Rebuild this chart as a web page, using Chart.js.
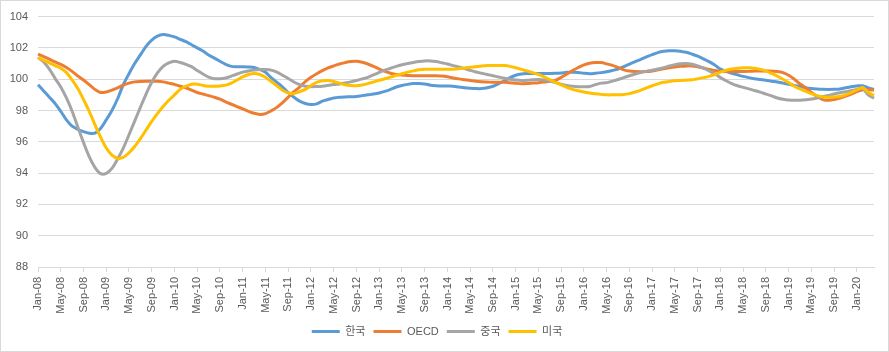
<!DOCTYPE html>
<html>
<head>
<meta charset="utf-8">
<script src="https://cdn.jsdelivr.net/npm/chart.js@4"></script>
<style>
  html, body { margin: 0; padding: 0; background: #fff; }
  #wrap { position: relative; width: 889px; height: 352px; }
  #frame { position: absolute; left: 0; top: 0; width: 887px; height: 350px; border: 1px solid #d9d9d9; pointer-events: none; }
  canvas { position: absolute; left: 0; top: 0; }
</style>
</head>
<body>
<div id="wrap">
  <canvas id="chart" width="889" height="352"></canvas>
  <div id="frame"></div>
</div>
<script>
// 월별 (Jan-08 ~ Apr-20)
const monthNames = ['Jan', 'Feb', 'Mar', 'Apr', 'May', 'Jun', 'Jul', 'Aug', 'Sep', 'Oct', 'Nov', 'Dec'];
const startYear = 2008;
const monthCount = 148;

const seriesNames = ['한국', 'OECD', '중국', '미국'];
const seriesColors = ['#5B9BD5', '#ED7D31', '#A5A5A5', '#FFC000'];

const korea = [
  99.65, 99.25, 98.85, 98.45, 97.95, 97.4, 97.0, 96.8, 96.65, 96.55, 96.55, 96.85,
  97.4, 98.0, 98.75, 99.65, 100.35, 101.0, 101.55, 102.1, 102.5, 102.75, 102.85, 102.8,
  102.7, 102.55, 102.4, 102.2, 102.0, 101.8, 101.55, 101.35, 101.15, 100.95, 100.82, 100.8,
  100.8, 100.78, 100.75, 100.62, 100.45, 100.1, 99.8, 99.5, 99.15, 98.85, 98.6, 98.45,
  98.38, 98.42, 98.6, 98.7, 98.8, 98.85, 98.87, 98.88, 98.9, 98.95, 99.0, 99.05,
  99.12, 99.22, 99.35, 99.5, 99.6, 99.67, 99.72, 99.73, 99.7, 99.62, 99.58, 99.57,
  99.56, 99.55, 99.5, 99.45, 99.42, 99.4, 99.4, 99.45, 99.55, 99.72, 99.9, 100.1,
  100.25, 100.33, 100.36, 100.37, 100.37, 100.37, 100.37, 100.38, 100.4, 100.44, 100.45, 100.43,
  100.38, 100.35, 100.38, 100.42, 100.48, 100.56, 100.65, 100.8, 100.97, 101.13, 101.27, 101.42,
  101.57, 101.7, 101.78, 101.82, 101.82, 101.78, 101.72, 101.6, 101.47, 101.3, 101.12, 100.9,
  100.65, 100.5, 100.38, 100.28, 100.18, 100.1, 100.03, 99.98, 99.93, 99.87, 99.82, 99.75,
  99.68, 99.6, 99.53, 99.45, 99.4, 99.37, 99.35, 99.34, 99.35, 99.37, 99.45, 99.52,
  99.57, 99.58, 99.45, 99.35
];

const oecd = [
  101.6, 101.45, 101.28, 101.1, 100.95, 100.75, 100.5, 100.2, 99.95, 99.65, 99.35, 99.15,
  99.18, 99.3, 99.45, 99.62, 99.75, 99.83, 99.86, 99.87, 99.87, 99.87, 99.83, 99.75,
  99.67, 99.55, 99.45, 99.3, 99.15, 99.05, 98.95, 98.85, 98.72, 98.55, 98.4, 98.25,
  98.1, 97.95, 97.82, 97.75, 97.8, 97.98, 98.2, 98.5, 98.85, 99.2, 99.5, 99.85,
  100.12, 100.35, 100.55, 100.72, 100.85, 100.97, 101.06, 101.13, 101.15, 101.08, 100.97, 100.82,
  100.65, 100.5, 100.38, 100.3, 100.26, 100.23, 100.22, 100.22, 100.22, 100.22, 100.22, 100.2,
  100.15, 100.08, 100.02, 99.97, 99.92, 99.87, 99.84, 99.82, 99.8, 99.8, 99.8, 99.78,
  99.74, 99.71, 99.72, 99.75, 99.78, 99.82, 99.87, 99.93, 100.12, 100.33, 100.55, 100.75,
  100.92, 101.02, 101.06, 101.06, 100.98, 100.88, 100.75, 100.6, 100.52, 100.49, 100.48, 100.49,
  100.53, 100.6, 100.67, 100.73, 100.78, 100.82, 100.85, 100.85, 100.8, 100.72, 100.63, 100.55,
  100.5, 100.49, 100.49, 100.49, 100.49, 100.5, 100.52, 100.53, 100.53, 100.51, 100.49, 100.42,
  100.25, 100.0, 99.7, 99.45, 99.15, 98.9, 98.7, 98.65, 98.7, 98.8, 98.92, 99.05,
  99.2, 99.33, 99.33, 99.3
];

const china = [
  101.4, 101.1, 100.65, 100.05, 99.5, 98.8, 97.95, 96.95, 95.95, 95.05, 94.37, 93.97,
  93.98, 94.3, 94.9, 95.6, 96.45, 97.32, 98.2, 99.05, 99.8, 100.4, 100.82, 101.05,
  101.15, 101.07, 100.95, 100.8, 100.55, 100.33, 100.13, 100.03, 100.03, 100.08, 100.2, 100.33,
  100.45, 100.52, 100.58, 100.62, 100.62, 100.58, 100.45, 100.25, 100.05, 99.82, 99.65, 99.55,
  99.52, 99.53, 99.55, 99.6, 99.66, 99.7, 99.76, 99.83, 99.92, 100.02, 100.12, 100.28,
  100.44, 100.58, 100.7, 100.82, 100.92, 101.0, 101.07, 101.13, 101.17, 101.17, 101.13, 101.05,
  100.97, 100.87, 100.78, 100.68, 100.56, 100.46, 100.38, 100.3, 100.22, 100.14, 100.06, 100.0,
  99.95, 99.92, 99.93, 99.97, 99.98, 99.95, 99.88, 99.78, 99.68, 99.6, 99.55, 99.52,
  99.52, 99.53, 99.65, 99.75, 99.78, 99.88, 99.98, 100.1, 100.22, 100.33, 100.42, 100.5,
  100.57, 100.65, 100.74, 100.84, 100.93, 100.99, 101.0, 100.95, 100.85, 100.7, 100.53, 100.35,
  100.1, 99.9, 99.72, 99.58, 99.48, 99.38, 99.28, 99.17, 99.05, 98.93, 98.8, 98.72,
  98.67, 98.65, 98.65, 98.68, 98.73, 98.8, 98.88, 98.96, 99.05, 99.13, 99.2, 99.27,
  99.35, 99.4, 99.0, 98.78
];

const usa = [
  101.37, 101.2, 101.05, 100.87, 100.7, 100.42, 99.95, 99.4, 98.7, 97.95, 97.1, 96.3,
  95.6, 95.15, 94.95, 95.0, 95.3, 95.7, 96.2, 96.75, 97.3, 97.8, 98.25, 98.65,
  99.0, 99.35, 99.55, 99.68, 99.68, 99.6, 99.55, 99.55, 99.57, 99.62, 99.75, 99.95,
  100.15, 100.3, 100.37, 100.3, 100.12, 99.85, 99.58, 99.3, 99.12, 99.08, 99.2, 99.35,
  99.6, 99.8, 99.9, 99.92, 99.85, 99.75, 99.65, 99.6, 99.58, 99.63, 99.72, 99.82,
  99.93, 100.03, 100.13, 100.25, 100.35, 100.45, 100.53, 100.6, 100.63, 100.63, 100.63, 100.63,
  100.63, 100.64, 100.67, 100.72, 100.76, 100.8, 100.84, 100.87, 100.88, 100.88, 100.87, 100.82,
  100.73, 100.63, 100.52, 100.42, 100.3, 100.15, 99.97, 99.8, 99.63, 99.48, 99.35, 99.26,
  99.18, 99.12, 99.07, 99.03, 99.0, 99.0, 99.0, 99.02, 99.08, 99.18, 99.3, 99.45,
  99.58, 99.7, 99.8, 99.86, 99.9, 99.92, 99.94, 99.96, 100.03, 100.1, 100.18, 100.3,
  100.45, 100.57, 100.65, 100.7, 100.73, 100.73, 100.7, 100.63, 100.53, 100.37, 100.2, 100.0,
  99.78, 99.55, 99.38, 99.22, 99.08, 98.95, 98.87, 98.85, 98.86, 98.9, 99.0, 99.15,
  99.32, 99.47, 99.15, 98.95
];

const yMin = 88;
const yMax = 104;
const yStep = 2;

const labels = [];
for (let i = 0; i < monthCount; i++) {
  const yy = String((startYear + Math.floor(i / 12)) % 100).padStart(2, '0');
  labels.push(`${monthNames[i % 12]}-${yy}`);
}

const allValues = [korea, oecd, china, usa];

const tickFont = { family: "'Liberation Sans', 'Noto Sans CJK KR', sans-serif", size: 11 };

new Chart(document.getElementById('chart'), {
  type: 'line',
  data: {
    labels: labels,
    datasets: allValues.map((values, i) => ({
      label: seriesNames[i],
      data: values,
      borderColor: seriesColors[i],
      backgroundColor: seriesColors[i],
      borderWidth: 3,
      pointRadius: 0,
      tension: 0.3,
      fill: false,
      order: allValues.length - i // 미국이 맨 위에 그려지도록
    }))
  },
  options: {
    responsive: false,
    animation: false,
    devicePixelRatio: 1,
    layout: { padding: { top: 14, right: 15, bottom: 5, left: 0 } },
    plugins: {
      tooltip: { enabled: false },
      legend: {
        position: 'bottom',
        labels: {
          usePointStyle: true,
          pointStyle: 'line',
          pointStyleWidth: 28,
          boxWidth: 28,
          padding: 8,
          color: '#595959',
          font: { family: "'Liberation Sans', 'Noto Sans CJK KR', sans-serif", size: 11 },
          sort: (a, b) => a.datasetIndex - b.datasetIndex
        }
      }
    },
    scales: {
      x: {
        offset: false,
        grid: {
          drawOnChartArea: false,
          drawTicks: true,
          tickLength: 5,
          color: '#d9d9d9'
        },
        border: { color: '#d9d9d9' },
        ticks: {
          autoSkip: false,
          minRotation: 90,
          maxRotation: 90,
          color: '#595959',
          font: tickFont,
          padding: 5,
          callback: function (value, index) {
            return index % 4 === 0 ? this.getLabelForValue(value) : null;
          }
        },
        afterFit: (scale) => { scale.height = 51; }
      },
      y: {
        min: yMin,
        max: yMax,
        grid: { color: '#d9d9d9', drawTicks: false },
        border: { display: false },
        ticks: {
          stepSize: yStep,
          color: '#595959',
          font: tickFont,
          padding: 10
        },
        afterFit: (scale) => { scale.width = 38; }
      }
    }
  }
});
</script>
</body>
</html>
